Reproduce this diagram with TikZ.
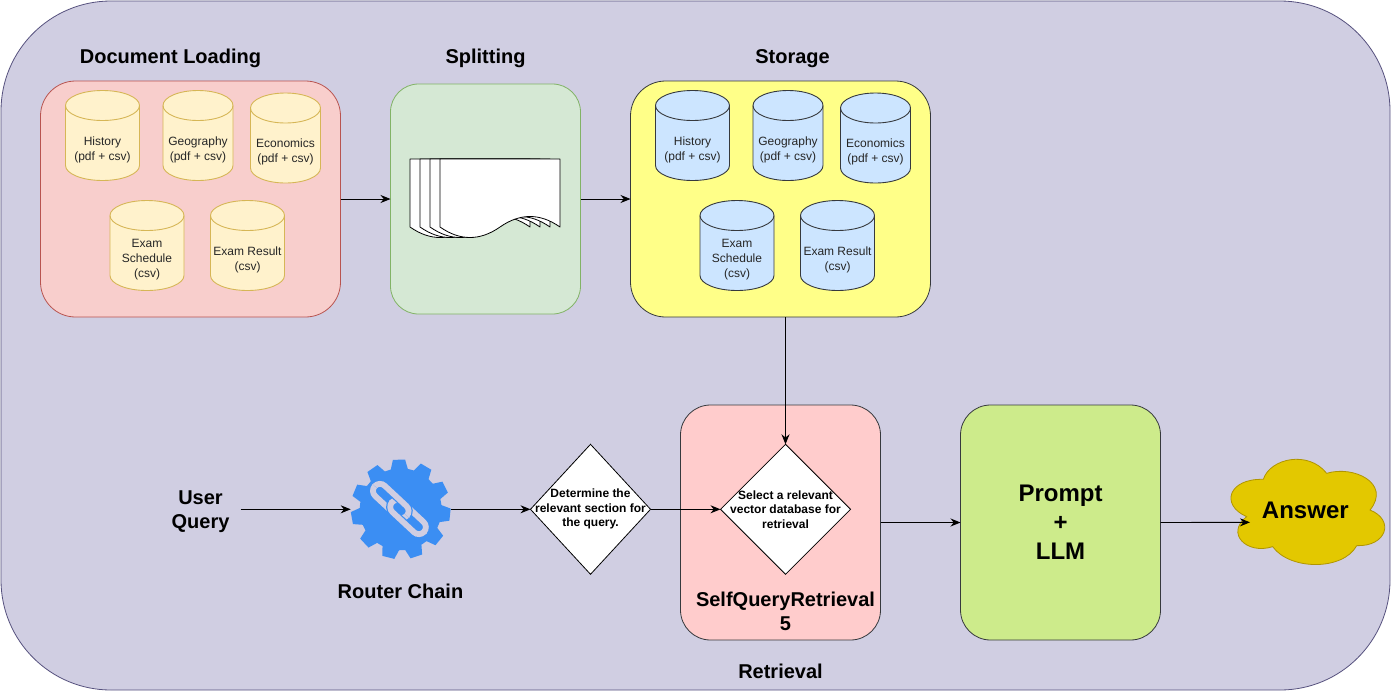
\documentclass[tikz,border=0pt]{standalone}
\usepackage{fontspec}
\setmainfont{Liberation Sans}
\usetikzlibrary{shapes.geometric,arrows.meta}
\definecolor{bgfill}{HTML}{D0CEE2}
\definecolor{bgline}{HTML}{56517E}
\definecolor{pinkfill}{HTML}{F8CECC}
\definecolor{pinkline}{HTML}{B85450}
\definecolor{creamfill}{HTML}{FFF2CC}
\definecolor{creamline}{HTML}{D6B656}
\definecolor{greenfill}{HTML}{D5E8D4}
\definecolor{greenline}{HTML}{82B366}
\definecolor{yelfill}{HTML}{FFFF88}
\definecolor{darkline}{HTML}{36393D}
\definecolor{bluefill}{HTML}{CCE5FF}
\definecolor{rosefill}{HTML}{FFCCCC}
\definecolor{limefill}{HTML}{CDEB8B}
\definecolor{gearblue}{HTML}{3B8EF3}
\definecolor{cloudfill}{HTML}{E3C800}
\definecolor{cloudline}{HTML}{B09500}
\tikzset{
  panel/.style={draw,line width=0.8pt,minimum width=#1,inner sep=0pt,outer sep=0pt},
  title/.style={font=\bfseries\fontsize{20}{24}\selectfont,align=center,inner sep=0pt},
  cyltext/.style={font=\fontsize{12}{15}\selectfont,align=center,inner sep=0pt,text=black!85},
  creamcyl/.style={draw=creamline,fill=creamfill,line width=0.9pt},
  bluecyl/.style={draw=darkline,fill=bluefill,line width=0.9pt},
  choice/.style={diamond,draw=black,fill=white,line width=0.8pt,inner sep=0pt,outer sep=0pt},
  choicetext/.style={font=\bfseries\fontsize{12}{14.5}\selectfont,align=center,inner sep=0pt},
  flow/.style={-{Stealth[length=10pt,width=8pt]},line width=0.9pt,black},
  sheet/.style={draw=black,fill=white,line width=0.8pt,line join=round},
  linkbg/.style={draw=bgfill,line width=5.8pt,rounded corners=7pt},
  linkgap/.style={draw=gearblue,line width=8.2pt,rounded corners=7pt}
}
% #1 name, #2 left, #3 top, #4 width, #5 style, #6 text
\newcommand{\drum}[6]{%
  \pgfmathsetmacro{\dl}{#2}\pgfmathsetmacro{\dt}{#3}\pgfmathsetmacro{\dw}{#4}%
  \pgfmathsetmacro{\dr}{\dl+\dw}\pgfmathsetmacro{\db}{\dt+90}\pgfmathsetmacro{\dm}{\dl+\dw/2}%
  \pgfmathsetmacro{\dq}{\dw*0.276}%
  \draw[#5] (\dl,\dt+15) .. controls (\dl,\dt+6.7) and (\dm-\dq,\dt) .. (\dm,\dt)
    .. controls (\dm+\dq,\dt) and (\dr,\dt+6.7) .. (\dr,\dt+15)
    -- (\dr,\db-15) .. controls (\dr,\db-6.7) and (\dm+\dq,\db) .. (\dm,\db)
    .. controls (\dm-\dq,\db) and (\dl,\db-6.7) .. (\dl,\db-15) -- cycle;
  \draw[#5,fill=none] (\dl,\dt+15) .. controls (\dl,\dt+23.3) and (\dm-\dq,\dt+30) .. (\dm,\dt+30)
    .. controls (\dm+\dq,\dt+30) and (\dr,\dt+23.3) .. (\dr,\dt+15);
  \node[cyltext] (#1) at (\dm,\dt+59) {#6};%
}
\newcommand{\pagesheet}[1]{%
  \draw[sheet] (#1,159) -- (#1+120,159) -- (#1+120,227)
    .. controls (#1+100,213) and (#1+80,213) .. (#1+60,227)
    .. controls (#1+40,241) and (#1+20,241) .. (#1,227) -- cycle;%
}
\begin{document}
\begin{tikzpicture}[x=1pt,y=-1pt]
\useasboundingbox (0,0) rectangle (1391,691);
\node[panel=1389pt,draw=bgline,fill=bgfill,minimum height=689pt,rounded corners=110pt] (outer) at (695.5,345.5) {};
% panels
\node[panel=300pt,draw=pinkline,fill=pinkfill,minimum height=236pt,rounded corners=35pt] (loading) at (190.5,199) {};
\node[panel=190pt,draw=greenline,fill=greenfill,minimum height=230pt,rounded corners=28pt] (split) at (485.5,199) {};
\node[panel=300pt,draw=darkline,fill=yelfill,minimum height=236pt,rounded corners=35pt] (store) at (780.5,199) {};
\node[panel=200pt,draw=darkline,fill=rosefill,minimum height=235pt,rounded corners=30pt] (retr) at (780.5,522.5) {};
\node[panel=200pt,draw=darkline,fill=limefill,minimum height=235pt,rounded corners=30pt,font=\bfseries\fontsize{24}{29}\selectfont,align=center] (prompt) at (1060.5,522.5) {Prompt\\+\\LLM};
% titles
\node[title] (t1) at (170.5,58) {Document Loading};
\node[title] (t2) at (485.5,58) {Splitting};
\node[title] (t3) at (792.5,58.5) {Storage};
\node[title] (t4) at (780.5,671) {Retrieval};
\node[title] (t5) at (400.5,591) {Router Chain};
\node[title,minimum width=80pt] (user) at (200.5,512) {User\\Query};
\node[title] (t6) at (785.5,611) {SelfQueryRetrieval\\5};
% cylinders, left
\drum{a1}{65.5}{90.5}{74}{creamcyl}{History\\(pdf + csv)}
\drum{a2}{163}{90.5}{70}{creamcyl}{Geography\\(pdf + csv)}
\drum{a3}{250.5}{93}{70}{creamcyl}{Economics\\(pdf + csv)}
\drum{a4}{110}{200.5}{74}{creamcyl}{Exam\\Schedule\\(csv)}
\drum{a5}{210.5}{200.5}{74}{creamcyl}{Exam Result\\(csv)}
% cylinders, right
\drum{b1}{655.5}{90.5}{74}{bluecyl}{History\\(pdf + csv)}
\drum{b2}{753}{90.5}{70}{bluecyl}{Geography\\(pdf + csv)}
\drum{b3}{840.5}{93}{70}{bluecyl}{Economics\\(pdf + csv)}
\drum{b4}{700}{200.5}{74}{bluecyl}{Exam\\Schedule\\(csv)}
\drum{b5}{800.5}{200.5}{74}{bluecyl}{Exam Result\\(csv)}
% document stack
\pagesheet{410}\pagesheet{420}\pagesheet{430}\pagesheet{440}
% gear
\node[circle,minimum size=100pt,inner sep=0pt,outer sep=0pt] (gear) at (400.7,509.3) {};
\begin{scope}[shift={(400.7,509.3)}]
\fill[gearblue,line join=round] (-92-12:41)
  \foreach \k in {0,...,10}{
    \pgfextra{\pgfmathsetmacro{\ga}{-92+\k*32.727}}
    -- (\ga-12:41) -- (\ga-7:50) -- (\ga+7:50) -- (\ga+12:41)
  } -- cycle;
\begin{scope}[shift={(-1.3,-0.3)},rotate=-43]
  \draw[linkbg] (-33.6,-7) rectangle (10,7);
  \draw[linkgap] (-10,-7) rectangle (33.6,7);
  \draw[linkbg] (-10,-7) rectangle (33.6,7);
  \begin{scope}
    \clip (-40,-13) rectangle (40,0);
    \draw[linkgap] (-33.6,-7) rectangle (10,7);
    \draw[linkbg] (-33.6,-7) rectangle (10,7);
  \end{scope}
\end{scope}
\end{scope}
% cloud
\begin{scope}[shift={(1220,450)},x=0.3333pt,y=-0.3333pt]
\draw[draw=cloudline,fill=cloudfill,line width=0.8pt] (130,88)
  .. controls (150,25) and (265,0) .. (320,70)
  .. controls (400,45) and (515,100) .. (450,180)
  .. controls (525,210) and (500,290) .. (410,287)
  .. controls (370,362) and (210,362) .. (158,290)
  .. controls (80,315) and (15,250) .. (80,200)
  .. controls (0,165) and (25,85) .. (130,88) -- cycle;
\coordinate (cloudin) at (90,217);
\node[font=\bfseries\fontsize{24}{29}\selectfont,inner sep=0pt] (answer) at (256,180) {Answer};
\end{scope}
% diamonds
\node[choice,aspect=0.923,minimum width=120pt,minimum height=130pt,label={[choicetext]center:Determine the\\relevant section for\\the query.}] (d1) at (590.5,509.3) {};
\node[choice,aspect=1,minimum width=130pt,minimum height=130pt,label={[choicetext]center:Select a relevant\\vector database for\\retrieval}] (d2) at (785.5,509.3) {};
% connectors
\draw[flow] (loading.east) -- (split.west);
\draw[flow] (split.east) -- (store.west);
\draw[flow] (d2.north |- store.south) -- (d2.north);
\draw[flow] (user.east |- gear.west) -- (gear.west);
\draw[flow] (gear.east) -- (d1.west);
\draw[flow] (d1.east) -- (d2.west);
\draw[flow] (retr.east) -- (prompt.west);
\draw[flow] (prompt.east) -- (cloudin);
\end{tikzpicture}
\end{document}
